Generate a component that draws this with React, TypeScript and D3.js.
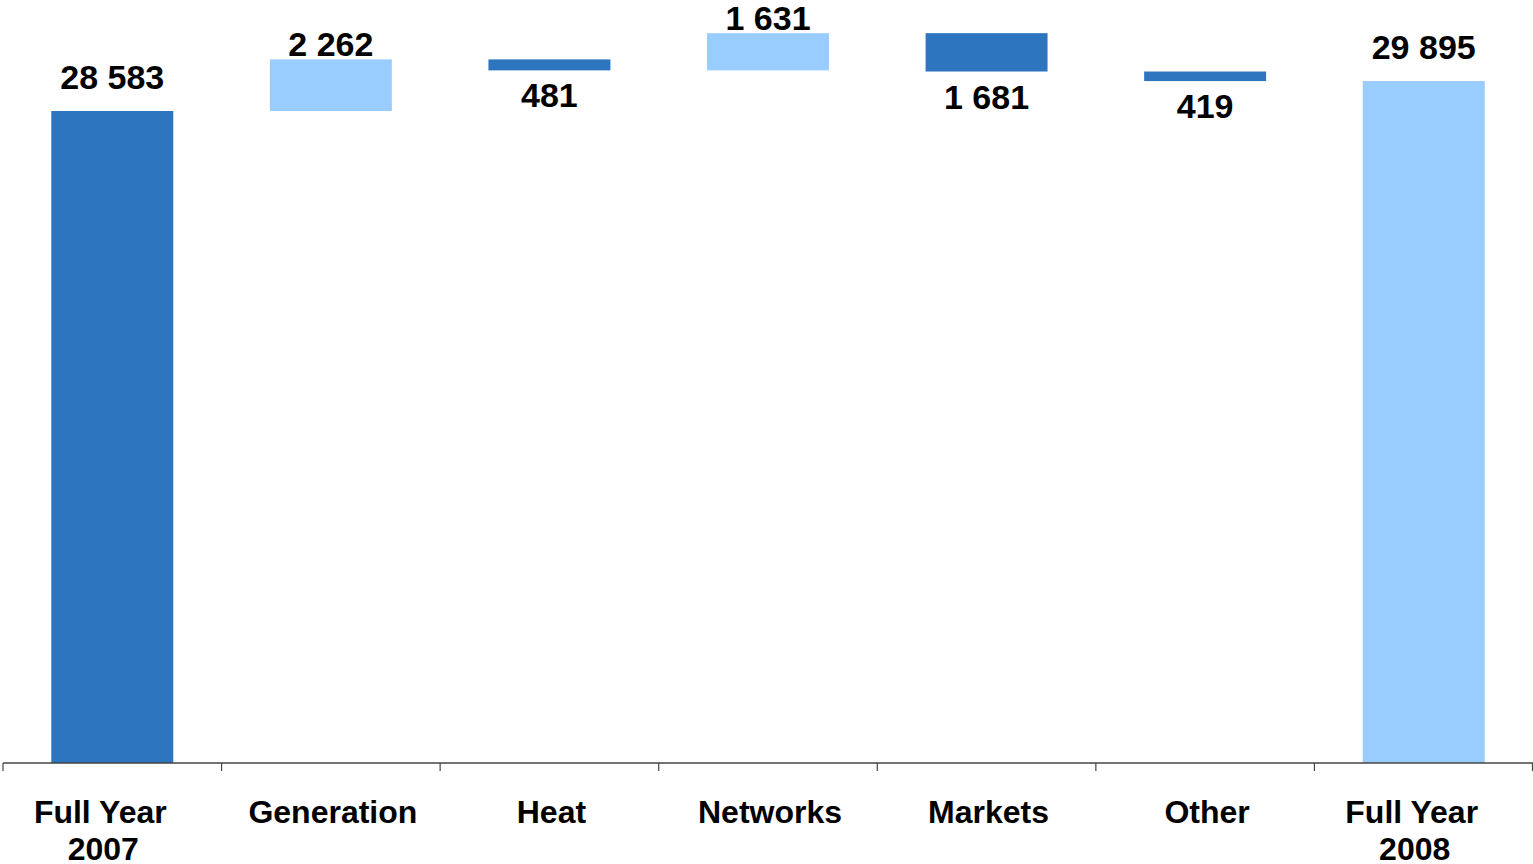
import React from "react";
import * as d3 from "d3";

// Waterfall: full-year 2007 total, business-area changes, full-year 2008 total
const categories = ["Full Year 2007", "Generation", "Heat", "Networks", "Markets", "Other", "Full Year 2008"];
const categoryLines = [["Full Year", "2007"], ["Generation"], ["Heat"], ["Networks"], ["Markets"], ["Other"], ["Full Year", "2008"]];
const startTotal = 28583;
const changes = [2262, -481, 1631, -1681, -419];
const endTotal = 29895;

const DARK = "#2E75C0";
const LIGHT = "#99CCFF";

const W = 1533;
const H = 864;
const baseY = 763;

type Step = { key: string; lo: number; hi: number; value: number; kind: "total" | "up" | "down"; color: string };

function buildSteps(): Step[] {
  const steps: Step[] = [];
  steps.push({ key: categories[0], lo: 0, hi: startTotal, value: startTotal, kind: "total", color: DARK });
  let run = startTotal;
  changes.forEach((c, i) => {
    const next = run + c;
    steps.push({
      key: categories[i + 1],
      lo: Math.min(run, next),
      hi: Math.max(run, next),
      value: Math.abs(c),
      kind: c >= 0 ? "up" : "down",
      color: c >= 0 ? LIGHT : DARK,
    });
    run = next;
  });
  steps.push({ key: categories[categories.length - 1], lo: 0, hi: endTotal, value: endTotal, kind: "total", color: LIGHT });
  return steps;
}

const fmt = (v: number) => d3.format(",")(v).replace(/,/g, " ");

export default function App() {
  const steps = buildSteps();
  const x = d3.scaleBand<string>().domain(categories).range([3, W]).padding(0);
  const y = d3.scaleLinear().domain([0, startTotal]).range([baseY, 111]);
  const bw = x.bandwidth() * 0.558;
  const font = "'Liberation Sans', Arial, sans-serif";
  const ticks = [...categories.map((c) => x(c) as number), W - 0.5];

  return (
    <div style={{ position: "fixed", left: 0, top: 0, width: W, height: H, background: "#fff" }}>
      <svg width={W} height={H} style={{ display: "block" }}>
        {steps.map((s) => {
          const cx = (x(s.key) as number) + x.bandwidth() / 2;
          return (
            <rect key={s.key} x={cx - bw / 2} y={y(s.hi)} width={bw} height={y(s.lo) - y(s.hi)} fill={s.color} />
          );
        })}
        {steps.map((s) => {
          const cx = (x(s.key) as number) + x.bandwidth() / 2;
          let by: number;
          if (s.kind === "total") by = y(s.hi) - 22;
          else if (s.kind === "up") by = y(s.hi) - 3;
          else by = y(s.lo) + 37;
          return (
            <text key={s.key} x={cx} y={by} textAnchor="middle" fontFamily={font} fontWeight="bold" fontSize={34} fill="#000">
              {fmt(s.value)}
            </text>
          );
        })}
        <line x1={3} x2={W} y1={baseY} y2={baseY} stroke="#444" strokeWidth={1.5} />
        {ticks.map((t, i) => (
          <line key={i} x1={t} x2={t} y1={baseY} y2={baseY + 8} stroke="#444" strokeWidth={1.2} />
        ))}
        {categories.map((c, i) => {
          const lines = categoryLines[i];
          const cx = (x(c) as number) + x.bandwidth() / 2 + (lines.length > 1 ? -12 : 2);
          return (
            <text key={c} x={cx} y={823} textAnchor="middle" fontFamily={font} fontWeight="bold" fontSize={32} fill="#000">
              {lines.map((l, j) => (
                <tspan key={j} x={cx + (j > 0 ? 3 : 0)} dy={j === 0 ? 0 : 37}>
                  {l}
                </tspan>
              ))}
            </text>
          );
        })}
      </svg>
    </div>
  );
}
